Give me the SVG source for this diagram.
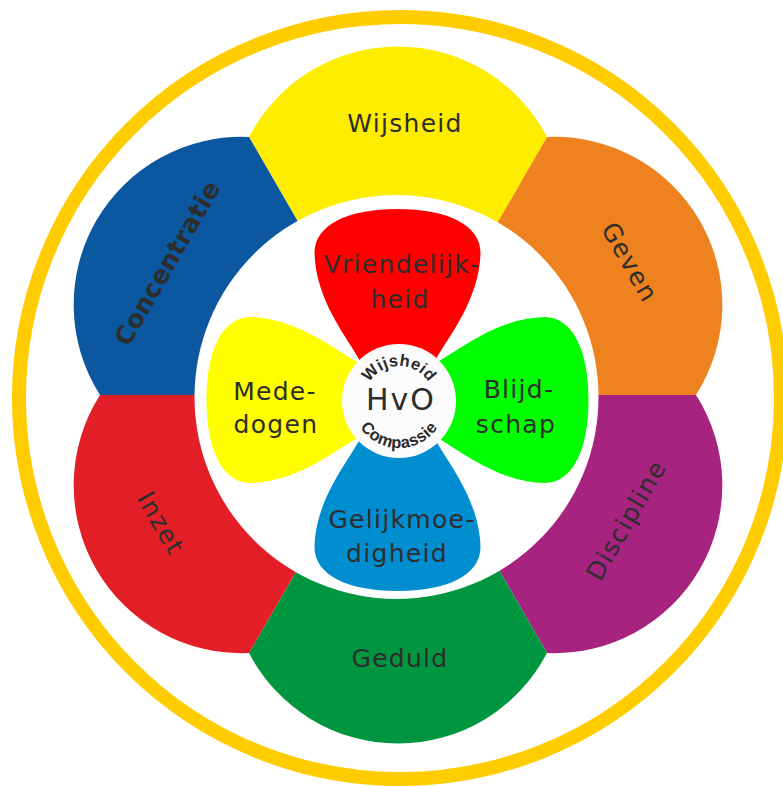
<svg xmlns="http://www.w3.org/2000/svg" xmlns:xlink="http://www.w3.org/1999/xlink" width="783" height="787" viewBox="0 0 783 787">
<style>
.lbl{font-family:"DejaVu Sans","Liberation Sans",sans-serif;font-size:25px;fill:#2d2d2d;letter-spacing:1.3px;text-anchor:middle}
.bold{font-weight:bold;letter-spacing:0.3px}
.arc{font-family:"Liberation Sans",Arial,sans-serif;font-weight:bold;font-size:16.5px;fill:#2a2a2a;letter-spacing:0.4px}
</style>
<defs>
<path id="xp" d="M -38,-40 C -50,-62 -82,-100 -83,-147 C -83,-175 -50,-191 0,-191 C 50,-191 83,-175 83,-147 C 82,-100 50,-62 38,-40 Z"/>
<path id="arcTop" d="M 364,401 A 35 35 0 0 1 434,401"/>
<path id="arcBot" d="M 352,401 A 47 47 0 0 0 446,401"/>
</defs>
<rect width="783" height="787" fill="#ffffff"/>
<circle cx="400" cy="398" r="381" fill="none" stroke="#ffcc00" stroke-width="14"/>
<g id="wijsheid">
<path d="M398,395 L249,136.9 A168,168 0 0 1 547,136.9 Z" fill="#ffed00"/>
<text class="lbl" x="405" y="132">Wijsheid</text>
</g>
<g id="geven">
<path d="M398,395 L547,136.9 A168,168 0 0 1 696,395 Z" fill="#ee821f"/>
<text class="lbl" transform="translate(630,262) rotate(60)" x="0" y="9">Geven</text>
</g>
<g id="discipline">
<path d="M398,395 L696,395 A168,168 0 0 1 547,653.1 Z" fill="#a6237f"/>
<text class="lbl" transform="translate(626,520) rotate(-60)" x="0" y="9">Discipline</text>
</g>
<g id="geduld">
<path d="M398,395 L547,653.1 A168,168 0 0 1 249,653.1 Z" fill="#009640"/>
<text class="lbl" x="400" y="667">Geduld</text>
</g>
<g id="inzet">
<path d="M398,395 L249,653.1 A168,168 0 0 1 100,395 Z" fill="#e21f26"/>
<text class="lbl" transform="translate(161,523) rotate(60)" x="0" y="9">Inzet</text>
</g>
<g id="concentratie">
<path d="M398,395 L100,395 A168,168 0 0 1 249,136.9 Z" fill="#0b57a0"/>
<text class="lbl bold" transform="translate(167,263) rotate(-60)" x="0" y="9">Concentratie</text>
</g>
<circle cx="396.5" cy="397" r="202" fill="#ffffff"/>
<g id="vriendelijkheid">
<use href="#xp" transform="translate(397.5,400)" fill="#ff0000"/>
<text class="lbl" x="402" y="273">Vriendelijk-</text>
<text class="lbl" x="400" y="308">heid</text>
</g>
<g id="blijdschap">
<use href="#xp" transform="translate(397.5,400) rotate(90)" fill="#00ff00"/>
<text class="lbl" x="519" y="398">Blijd-</text>
<text class="lbl" x="516" y="433">schap</text>
</g>
<g id="gelijkmoedigheid">
<use href="#xp" transform="translate(397.5,400) rotate(180)" fill="#008ed1"/>
<text class="lbl" x="402" y="528">Gelijkmoe-</text>
<text class="lbl" x="397" y="562">digheid</text>
</g>
<g id="mededogen">
<use href="#xp" transform="translate(397.5,400) rotate(270)" fill="#ffff00"/>
<text class="lbl" x="275" y="400">Mede-</text>
<text class="lbl" x="276" y="433">dogen</text>
</g>
<g id="hvo">
<circle cx="399" cy="401" r="57" fill="#fbfbfb"/>
<text class="lbl" style="font-size:30px;letter-spacing:2px" x="401" y="410">HvO</text>
<text class="arc"><textPath href="#arcTop" startOffset="50%" text-anchor="middle">Wijsheid</textPath></text>
<text class="arc"><textPath href="#arcBot" startOffset="50%" text-anchor="middle">Compassie</textPath></text>
</g>
</svg>
